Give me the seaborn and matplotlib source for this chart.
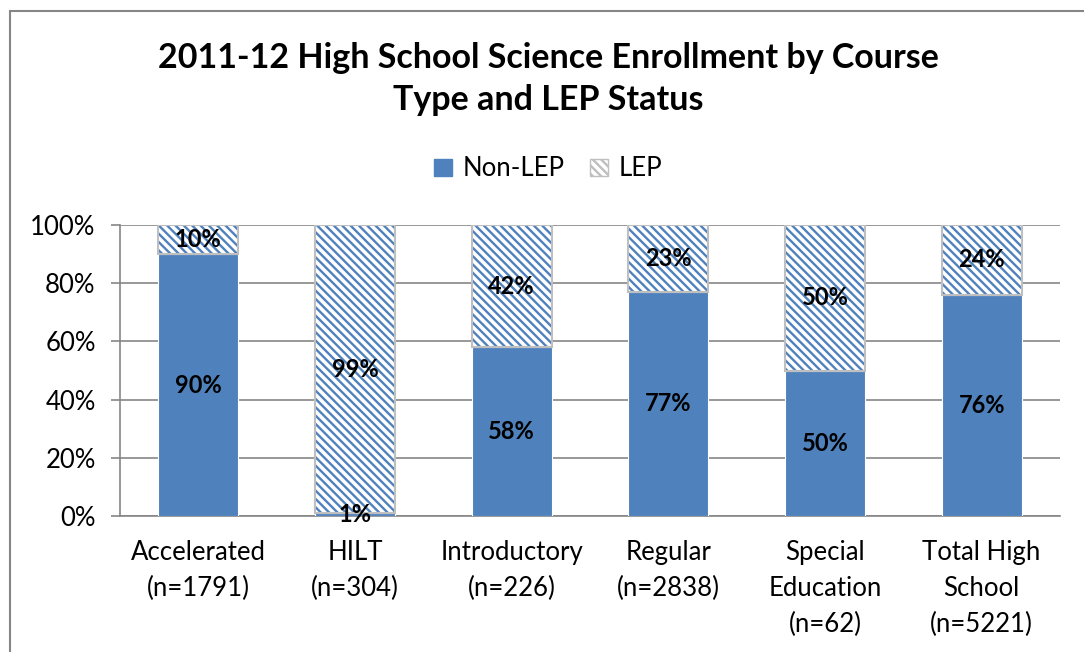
import matplotlib
matplotlib.use("Agg")
import matplotlib.pyplot as plt
import seaborn as sns
import pandas as pd
from matplotlib.patches import Patch, Rectangle

categories = ["Accelerated\n(n=1791)", "HILT\n(n=304)", "Introductory\n(n=226)",
              "Regular\n(n=2838)", "Special\nEducation\n(n=62)", "Total High\nSchool\n(n=5221)"]
non_lep = [90, 1, 58, 77, 50, 76]
lep = [10, 99, 42, 23, 50, 24]
yticks = [0, 20, 40, 60, 80, 100]
title = "2011-12 High School Science Enrollment by Course\nType and LEP Status"

sns.set_theme(style="white")
plt.rcParams['font.family'] = ['Lato', 'DejaVu Sans']
plt.rcParams['text.color'] = 'black'
plt.rcParams['xtick.color'] = 'black'
plt.rcParams['ytick.color'] = 'black'
plt.rcParams['hatch.color'] = '#4F81BD'
plt.rcParams['hatch.linewidth'] = 1.7

df = pd.DataFrame({"cat": categories, "non_lep": non_lep, "lep": lep})

fig = plt.figure(figsize=(10.84, 6.52), dpi=100)
ax = fig.add_axes([120/1084, 1-516/652, (1060-120)/1084, (516-225)/652])

blue = '#4F81BD'
HATCH = '\\\\\\\\'
sns.barplot(data=df, x="cat", y="non_lep", color=blue, width=0.51, ax=ax,
            saturation=1, edgecolor='white', linewidth=0.8, zorder=3)
sns.barplot(data=df, x="cat", y="lep", color='white', width=0.51, ax=ax,
            saturation=1, bottom=df["non_lep"], hatch=HATCH, edgecolor='#BFBFBF',
            linewidth=1.5, zorder=3)
for p in ax.patches[len(categories):]:
    p.set_hatch(HATCH)
    p._hatch_color = matplotlib.colors.to_rgba(blue)

for i, (a, b) in enumerate(zip(non_lep, lep)):
    ax.text(i, a/2, f"{a}%", ha='center', va='center', fontsize=17,
            fontweight='bold', color='black', zorder=5)
    ax.text(i, a + b/2, f"{b}%", ha='center', va='center', fontsize=17,
            fontweight='bold', color='black', zorder=5)

ax.set_ylim(0, 100)
ax.set_xlim(-0.5, len(categories)-0.5)
ax.set_yticks(yticks)
ax.set_yticklabels([f"{v}%" for v in yticks], fontsize=18.5)
ax.set_xticks(range(len(categories)))
ax.set_xticklabels(categories, fontsize=18.5, linespacing=1.55)
ax.tick_params(axis='x', length=0, pad=17)
ax.tick_params(axis='y', pad=11, length=6.5, width=1.2, color='#868686', direction='out', left=True)
ax.set_xlabel("")
ax.set_ylabel("")
ax.yaxis.grid(True, color='#868686', linewidth=1.2, zorder=0)
ax.set_axisbelow(True)
for s in ['top', 'right']:
    ax.spines[s].set_visible(False)
for s in ['left', 'bottom']:
    ax.spines[s].set_color('#868686')
    ax.spines[s].set_linewidth(1.2)

fig.text(548/1084, 1-79/652, title, ha='center', va='center', fontsize=24.5,
         fontweight='bold', linespacing=1.38, color='black')

handles = [Patch(facecolor=blue, edgecolor=blue, label='Non-LEP'),
           Patch(facecolor='white', edgecolor='#BFBFBF', hatch=HATCH, label='LEP')]
fig.legend(handles=handles, loc='center', bbox_to_anchor=(548/1084, 1-169/652),
           ncol=2, frameon=False, fontsize=18.5, handlelength=0.7, handleheight=0.7,
           columnspacing=1.0, handletextpad=0.4)

fig.patches.append(Rectangle((10/1084, -0.05), 1.2, 1-11/652+0.05,
                             transform=fig.transFigure, fill=False,
                             edgecolor='#868686', linewidth=1.5))

fig.savefig("out.png", dpi=100)
